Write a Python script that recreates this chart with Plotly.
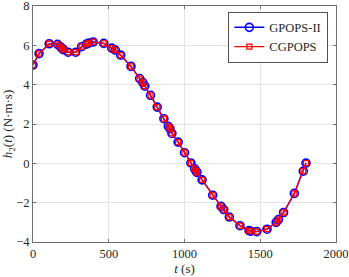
import plotly.graph_objects as go

t_vals = [0, 40, 107, 162, 180, 192, 200, 232, 282, 321, 353, 368, 397, 467, 520, 543, 579,
          647, 704, 724, 738, 776, 820, 864, 893, 904, 917, 958, 1000, 1042, 1067, 1077, 1082,
          1116, 1186, 1241, 1259, 1296, 1366, 1426, 1438, 1477, 1545, 1605, 1620, 1654, 1725,
          1784, 1802]
h2_gpops = [5.00, 5.58, 6.08, 6.05, 5.93, 5.84, 5.78, 5.65, 5.65, 5.93, 6.06, 6.11, 6.17, 6.10,
            5.86, 5.76, 5.50, 4.93, 4.31, 4.12, 3.93, 3.46, 2.86, 2.27, 1.88, 1.77, 1.52, 1.08,
            0.54, 0.02, -0.28, -0.40, -0.46, -0.84, -1.62, -2.19, -2.35, -2.73, -3.17, -3.42,
            -3.45, -3.47, -3.35, -3.00, -2.86, -2.50, -1.53, -0.40, 0.01]
h2_cgpops = list(h2_gpops)

x_ticks = [0, 500, 1000, 1500, 2000]
y_ticks = [-4, -2, 0, 2, 4, 6, 8]

FONT = "Liberation Serif, DejaVu Serif, serif"

fig = go.Figure()
fig.add_trace(go.Scatter(
    x=t_vals, y=h2_gpops, mode="lines+markers", name="GPOPS-II",
    line=dict(color="#0000ff", width=1.5),
    marker=dict(symbol="circle-open", size=8, color="#0000ff", line=dict(width=1.6)),
))
fig.add_trace(go.Scatter(
    x=t_vals, y=h2_cgpops, mode="lines+markers", name="CGPOPS",
    line=dict(color="#ff0000", width=1.2),
    marker=dict(symbol="square-open", size=5, color="#ff0000", line=dict(width=1.3)),
))

axis_common = dict(
    showline=True, linecolor="#6e6e6e", linewidth=1, mirror="allticks",
    ticks="inside", ticklen=3, tickcolor="#6e6e6e",
    showgrid=True, gridcolor="#e3e3e3", gridwidth=1,
    zeroline=False, tickfont=dict(family=FONT, size=12.5, color="#262626"),
    ticklabeloverflow="allow", automargin=False,
)

fig.update_layout(
    width=349, height=277,
    margin=dict(l=33, r=13, t=6, b=35),
    paper_bgcolor="white", plot_bgcolor="white",
    font=dict(family=FONT, size=12.5, color="#262626"),
    showlegend=True,
    legend=dict(
        x=0.972, y=0.975, xanchor="right", yanchor="top",
        bgcolor="white", bordercolor="#262626", borderwidth=0.8,
        font=dict(family=FONT, size=12.5, color="#262626"),
        tracegroupgap=0, itemwidth=30,
    ),
    xaxis=dict(range=[0, 2000], tickvals=x_ticks,
               title=dict(text="<i>t</i> (s)", font=dict(family=FONT, size=13), standoff=0),
               **axis_common),
    yaxis=dict(range=[-4, 8], tickvals=y_ticks,
               title=dict(text="<i>h</i><sub>2</sub>(<i>t</i>) (N·m·s)", font=dict(family=FONT, size=13), standoff=5),
               **axis_common),
)

fig.write_html("out.html", config={"displayModeBar": False},
               post_script="document.body.style.margin='0';document.body.style.overflow='hidden';")
